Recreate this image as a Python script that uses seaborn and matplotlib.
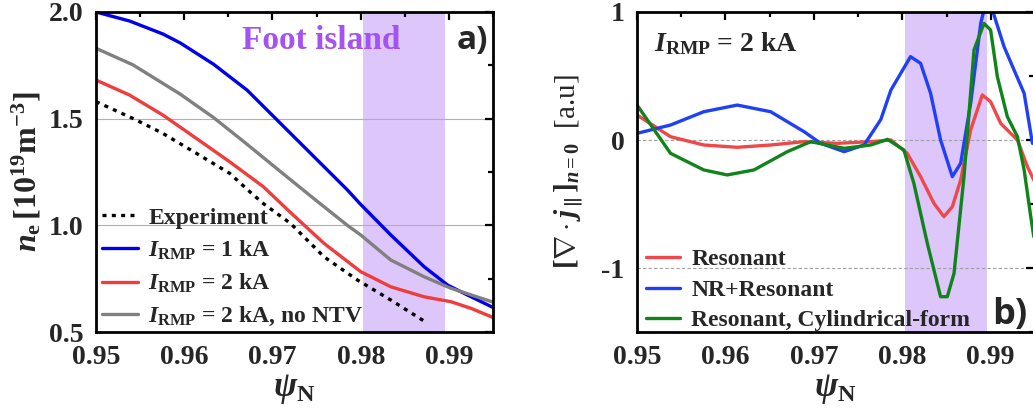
import numpy as np
import pandas as pd
import matplotlib
matplotlib.use("Agg")
import matplotlib.pyplot as plt
import seaborn as sns
from matplotlib.ticker import MultipleLocator

# ---------------- data ----------------
# panel a : n_e [1e19 m^-3] vs psi_N
exp_x = [0.95, 0.95455, 0.95758, 0.96136, 0.96515, 0.96742, 0.96894, 0.97205, 0.97583,
         0.97962, 0.98341, 0.98758]
exp_y = [1.58, 1.494, 1.431, 1.338, 1.244, 1.158, 1.103, 1.009, 0.853, 0.744, 0.65, 0.541]
k1_x = [0.95, 0.95379, 0.95758, 0.95955, 0.96333, 0.96712, 0.97091, 0.9747, 0.97849,
        0.98, 0.98341, 0.98719, 0.98985, 0.99212, 0.995]
k1_y = [2.0, 1.958, 1.897, 1.855, 1.755, 1.634, 1.478, 1.322, 1.166,
        1.098, 0.955, 0.806, 0.72, 0.673, 0.615]
k2_x = [0.95, 0.95379, 0.95758, 0.96136, 0.96515, 0.96894, 0.97205, 0.97583, 0.98,
        0.98341, 0.98719, 0.99023, 0.9925, 0.995]
k2_y = [1.681, 1.611, 1.517, 1.408, 1.298, 1.182, 1.06, 0.916, 0.783, 0.712, 0.665, 0.642,
        0.611, 0.568]
nontv_x = [0.95, 0.9542, 0.95955, 0.96333, 0.96712, 0.97091, 0.9747, 0.97849, 0.98,
           0.98341, 0.98719, 0.99023, 0.995]
nontv_y = [1.83, 1.752, 1.615, 1.505, 1.38, 1.252, 1.125, 1.0, 0.955,
           0.8375, 0.759, 0.705, 0.640]

# panel b : [div j_par]_{n=0} (a.u.) vs psi_N
res_x = [0.95, 0.95378, 0.95755, 0.96133, 0.96511, 0.96889, 0.97266, 0.97644, 0.97871,
         0.98056, 0.98207, 0.98358, 0.98471, 0.98566, 0.9866, 0.98773, 0.98905,
         0.98999, 0.99113, 0.99226, 0.99302, 0.99415, 0.99487]
res_y = [0.195, 0.026, -0.039, -0.057, -0.039, -0.013, -0.026, -0.013, 0.0,
         -0.104, -0.286, -0.495, -0.599, -0.521, -0.3125, 0.078, 0.352,
         0.299, 0.130, 0.052, 0.0, -0.208, -0.3125]
nr_x = [0.95, 0.95378, 0.95755, 0.96133, 0.96511, 0.96889, 0.97077, 0.97342, 0.97568,
        0.97757, 0.97871, 0.98093, 0.98207, 0.9832, 0.98433, 0.98566, 0.9866,
        0.98773, 0.98887, 0.98924, 0.9897, 0.99019, 0.99151, 0.99264, 0.99378, 0.99472]
nr_y = [0.052, 0.117, 0.221, 0.273, 0.221, 0.065, -0.026, -0.091, -0.039,
        0.16, 0.39, 0.651, 0.599, 0.365, 0.0, -0.286, -0.182,
        0.286, 0.911, 1.016, 1.08, 1.016, 0.729, 0.547, 0.365, -0.026]
cyl_x = [0.95, 0.95378, 0.95755, 0.9602, 0.96322, 0.967, 0.96964, 0.97342, 0.97644,
         0.97833, 0.98018, 0.98131, 0.98283, 0.98433, 0.98509,
         0.98585, 0.98698, 0.98811, 0.98924, 0.98999, 0.99075, 0.99188, 0.99302, 0.99378,
         0.99453, 0.99487]
cyl_y = [0.273, -0.104, -0.234, -0.273, -0.234, -0.091, -0.013, -0.065, -0.039,
         0.005, -0.078, -0.339, -0.807, -1.224, -1.224,
         -1.042, -0.286, 0.703, 0.911, 0.859, 0.495, 0.182, 0.026, -0.234,
         -0.599, -0.755]

band = (0.9803, 0.9896)
xticks = [0.95, 0.96, 0.97, 0.98, 0.99]

# ---------------- style ----------------
sns.set_theme(style="white")
plt.rcParams["font.family"] = ["Liberation Serif", "DejaVu Serif"]
plt.rcParams["font.weight"] = "bold"
plt.rcParams["mathtext.fontset"] = "custom"
plt.rcParams["mathtext.rm"] = "Liberation Serif:bold"
plt.rcParams["mathtext.bf"] = "Liberation Serif:bold"
plt.rcParams["mathtext.it"] = "Liberation Serif:italic:bold"
plt.rcParams["lines.solid_capstyle"] = "round"
plt.rcParams["lines.solid_joinstyle"] = "round"

fig = plt.figure(figsize=(10.33, 4.18), dpi=100)
axa = fig.add_axes([0.0929, 0.2057, 0.3844, 0.7656])
axb = fig.add_axes([0.6167, 0.2057, 0.3843, 0.7656])

band_col = "#dcc6fa"

def style_axes(ax):
    for s in ax.spines.values():
        s.set_linewidth(2.0)
        s.set_color("black")
    ax.tick_params(which="both", direction="in", top=True, right=True,
                   labelsize=20, width=1.6, color="black")
    ax.tick_params(which="major", length=6, pad=9)
    ax.tick_params(which="minor", length=3.5)
    for lab in ax.get_xticklabels() + ax.get_yticklabels():
        lab.set_fontweight("bold")

# ---------- panel a ----------
axa.axvspan(*band, color=band_col, lw=0, zorder=0)
for yv in (1.5, 1.0):
    axa.axhline(yv, color="#b0b0b0", lw=0.8, zorder=0.5)
sns.lineplot(x=exp_x, y=exp_y, ax=axa, color="black", lw=2.4, linestyle=(0, (1.2, 1.6)),
             label="Experiment")
sns.lineplot(x=k1_x, y=k1_y, ax=axa, color="#0000ee", lw=2.4, label=r"$I_{\rm RMP}$ = 1 kA")
sns.lineplot(x=k2_x, y=k2_y, ax=axa, color="#f03c3c", lw=2.4, label=r"$I_{\rm RMP}$ = 2 kA")
sns.lineplot(x=nontv_x, y=nontv_y, ax=axa, color="#808080", lw=2.4,
             label=r"$I_{\rm RMP}$ = 2 kA, no NTV")
axa.set_xlim(0.95, 0.995)
axa.set_ylim(0.5, 2.0)
axa.set_xticks(xticks)
axa.set_xticklabels([f"{v:.2f}" for v in xticks])
axa.set_yticks([0.5, 1.0, 1.5, 2.0])
axa.set_yticklabels(["0.5", "1.0", "1.5", "2.0"])
axa.xaxis.set_minor_locator(MultipleLocator(0.005))
axa.yaxis.set_minor_locator(MultipleLocator(0.25))
style_axes(axa)
axa.set_xlabel(r"$\psi_{\rm N}$", fontsize=25, labelpad=2)
axa.set_ylabel(r"$n_{\rm e}\,[10^{19}{\rm m}^{-3}]$", fontsize=23, labelpad=4)
axa.text(0.9665, 1.865, "Foot island", color="#a452f2", fontsize=24, fontweight="bold",
         ha="left", va="center")
axa.text(0.9944, 1.865, "a)", fontsize=24, fontweight="bold", family=["Open Sans", "DejaVu Sans"],
         ha="right", va="center")
leg = axa.legend(loc="lower left", bbox_to_anchor=(-0.02, -0.032), frameon=False, fontsize=17,
                 handlelength=1.5, handletextpad=0.45, labelspacing=0.42, borderaxespad=0.2)
for t in leg.get_texts():
    t.set_fontweight("bold")

# ---------- panel b ----------
axb.axvspan(*band, color=band_col, lw=0, zorder=0)
for yv in (0.0, -1.0):
    axb.axhline(yv, color="#a0a0a0", lw=0.8, linestyle=(0, (3, 2)), zorder=0.5)
sns.lineplot(x=res_x, y=res_y, ax=axb, color="#f04848", lw=2.4, label="Resonant")
sns.lineplot(x=nr_x, y=nr_y, ax=axb, color="#2040f8", lw=2.4, label="NR+Resonant")
sns.lineplot(x=cyl_x, y=cyl_y, ax=axb, color="#10841a", lw=2.4, label="Resonant, Cylindrical-form")
axb.set_xlim(0.95, 0.9949)
axb.set_ylim(-1.5, 1.0)
axb.set_xticks(xticks)
axb.set_xticklabels([f"{v:.2f}" for v in xticks])
axb.set_yticks([-1, 0, 1])
axb.set_yticklabels(["-1", "0", "1"])
axb.xaxis.set_minor_locator(MultipleLocator(0.005))
axb.yaxis.set_minor_locator(MultipleLocator(0.5))
style_axes(axb)
axb.set_xlabel(r"$\psi_{\rm N}$", fontsize=25, labelpad=2)
axb.set_ylabel(r"$[\nabla\cdot j_{\parallel}]_{n=0}$  [a.u]", fontsize=21, labelpad=12)
axb.text(0.9519, 0.75, r"$I_{\rm RMP}$ = 2 kA", fontsize=20, fontweight="bold", ha="left", va="center")
axb.text(0.9942, -1.37, "b)", fontsize=26, fontweight="bold", family=["Open Sans", "DejaVu Sans"],
         ha="right", va="center")
leg = axb.legend(loc="lower left", bbox_to_anchor=(-0.012, -0.042), frameon=False, fontsize=17,
                 handlelength=1.4, handletextpad=0.5, labelspacing=0.38, borderaxespad=0.2)
for t in leg.get_texts():
    t.set_fontweight("bold")

fig.savefig("out.png", dpi=100)
